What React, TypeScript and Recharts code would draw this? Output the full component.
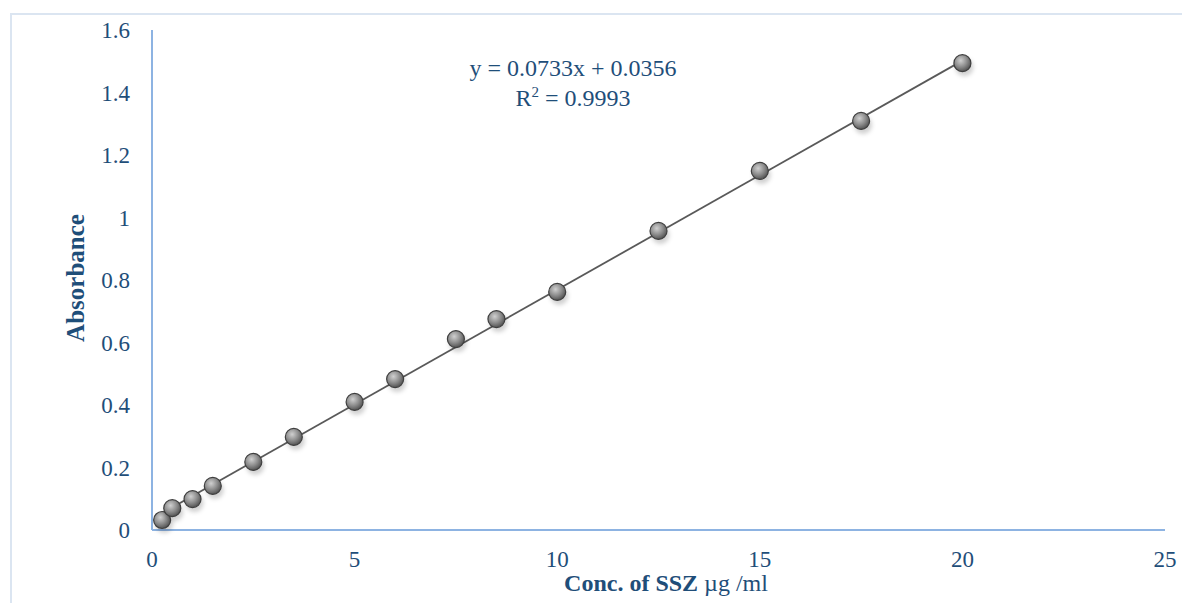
import {
  ReferenceLine,
  Scatter,
  ScatterChart,
  XAxis,
  YAxis,
} from "recharts";

const concentrations = [0.25, 0.5, 1, 1.5, 2.5, 3.5, 5, 6, 7.5, 8.5, 10, 12.5, 15, 17.5, 20];
const absorbances = [0.032, 0.07, 0.099, 0.141, 0.218, 0.298, 0.41, 0.483, 0.611, 0.675, 0.762, 0.957, 1.149, 1.309, 1.494];
const xTicks = [0, 5, 10, 15, 20, 25];
const yTicks = [0, 0.2, 0.4, 0.6, 0.8, 1, 1.2, 1.4, 1.6];
// fitted trendline ends, as drawn in the picture
const trendEnds = [
  { x: 0.25, y: 0.054 },
  { x: 20, y: 1.502 },
];

const points = concentrations.map((x, i) => ({ x, y: absorbances[i] }));

const font = "'Liberation Serif', 'DejaVu Serif', serif";
const textBlue = "#1f4e79";
const axisBlue = "#8db3e2";

function Bead(props: any) {
  const { cx, cy } = props;
  if (cx == null || cy == null) return null;
  return (
    <g>
      <circle cx={cx + 2} cy={cy + 4} r={9} fill="rgba(0,0,0,0.18)" filter="url(#beadBlur)" />
      <circle cx={cx} cy={cy} r={8.5} fill="url(#beadFill)" stroke="#3f3f3f" strokeWidth={1.2} />
    </g>
  );
}

export default function App() {
  return (
    <div style={{ position: "absolute", left: 0, top: 0, width: 1182, height: 603, overflow: "hidden", background: "#fff" }}>
      <div
        style={{
          position: "absolute",
          left: 10,
          top: 13,
          width: 1200,
          height: 620,
          border: "2px solid #dbe5f1",
        }}
      />
      <div style={{ position: "absolute", left: 0, top: 0 }}>
        <ScatterChart width={1182} height={603} margin={{ top: 30, right: 17, bottom: 0, left: 0 }}>
          <defs>
            <radialGradient id="beadFill" cx="40%" cy="35%" r="70%">
              <stop offset="0%" stopColor="#d0d0d0" />
              <stop offset="55%" stopColor="#8a8a8a" />
              <stop offset="100%" stopColor="#4a4a4a" />
            </radialGradient>
            <filter id="beadBlur" x="-50%" y="-50%" width="200%" height="200%">
              <feGaussianBlur stdDeviation="2" />
            </filter>
          </defs>
          <XAxis
            type="number"
            dataKey="x"
            domain={[0, 25]}
            ticks={xTicks}
            interval={0}
            height={73}
            axisLine={{ stroke: axisBlue, strokeWidth: 2 }}
            tickLine={false}
            tickSize={0}
            tickMargin={21}
            tick={{ fill: textBlue, fontFamily: font, fontSize: 23 }}
            label={(p: any) => {
              const vb = p.viewBox;
              return (
                <text
                  x={666}
                  y={vb.y + 61}
                  textAnchor="middle"
                  fill={textBlue}
                  fontFamily={font}
                  fontSize={24}
                >
                  <tspan fontWeight="bold">Conc. of SSZ</tspan>
                  <tspan> µg /ml</tspan>
                </text>
              );
            }}
          />
          <YAxis
            type="number"
            dataKey="y"
            domain={[0, 1.6]}
            ticks={yTicks}
            interval={0}
            width={152}
            axisLine={{ stroke: axisBlue, strokeWidth: 2 }}
            tickLine={false}
            tickSize={0}
            tickMargin={22}
            tick={{ fill: textBlue, fontFamily: font, fontSize: 23 }}
            label={() => (
              <text
                x={84}
                y={278}
                transform="rotate(-90 84 278)"
                textAnchor="middle"
                fill={textBlue}
                fontFamily={font}
                fontSize={25}
                fontWeight="bold"
              >
                Absorbance
              </text>
            )}
          />
          <ReferenceLine
            segment={trendEnds}
            stroke="#595959"
            strokeWidth={1.8}
            ifOverflow="visible"
          />
          <Scatter data={points} shape={Bead} isAnimationActive={false} />
          <text x={573} y={76} textAnchor="middle" fill={textBlue} fontFamily={font} fontSize={24}>
            y = 0.0733x + 0.0356
          </text>
          <text x={573} y={106} textAnchor="middle" fill={textBlue} fontFamily={font} fontSize={24}>
            R<tspan dy={-9} fontSize={15}>2</tspan>
            <tspan dy={9}> = 0.9993</tspan>
          </text>
        </ScatterChart>
      </div>
    </div>
  );
}
